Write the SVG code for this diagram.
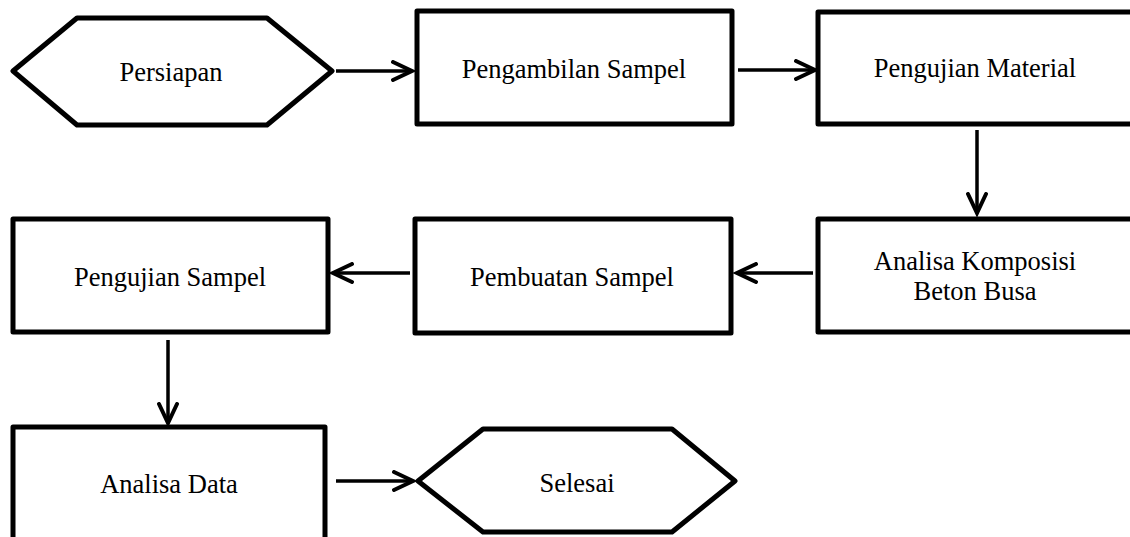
<svg xmlns="http://www.w3.org/2000/svg" width="1130" height="537" viewBox="0 0 1130 537">
<style>
.shape{fill:#fff;stroke:#000;stroke-width:5;stroke-linejoin:round}
.lbl{font-family:"Liberation Serif","Times New Roman",serif;font-size:26.5px;fill:#000;text-anchor:middle}
.conn{fill:none;stroke:#000;stroke-width:3.5}
</style>
<defs>
<marker id="arr" markerWidth="26" markerHeight="22" refX="21" refY="11" orient="auto" markerUnits="userSpaceOnUse">
<path d="M2,2 L21,11 L2,20" fill="none" stroke="#000" stroke-width="4" stroke-linecap="round" stroke-linejoin="miter"/>
</marker>
</defs>
<rect width="1130" height="537" fill="#fff"/>
<g id="n-persiapan"><polygon class="shape" points="13,71 77,18 267,18 332,71 267,125 77,125"/><text class="lbl" x="171" y="81">Persiapan</text></g>
<g id="n-pengambilan"><rect class="shape" x="417" y="11" width="315" height="113"/><text class="lbl" x="574" y="78">Pengambilan Sampel</text></g>
<g id="n-material"><rect class="shape" x="818" y="12" width="316" height="112"/><text class="lbl" x="975" y="77">Pengujian Material</text></g>
<g id="n-analisa-komposisi"><rect class="shape" x="818" y="219" width="316" height="113"/><text class="lbl" x="975" y="270">Analisa Komposisi</text><text class="lbl" x="975" y="300">Beton Busa</text></g>
<g id="n-pembuatan"><rect class="shape" x="415" y="219" width="316" height="114"/><text class="lbl" x="572" y="286">Pembuatan Sampel</text></g>
<g id="n-pengujian-sampel"><rect class="shape" x="13" y="219" width="315" height="113"/><text class="lbl" x="170" y="286">Pengujian Sampel</text></g>
<g id="n-analisa-data"><rect class="shape" x="13" y="427" width="312" height="120"/><text class="lbl" x="169" y="493">Analisa Data</text></g>
<g id="n-selesai"><polygon class="shape" points="418,481 483,429 672,429 735,481 672,532 483,532"/><text class="lbl" x="577" y="492">Selesai</text></g>
<g id="connectors">
<line class="conn" x1="336" y1="71" x2="412" y2="71" marker-end="url(#arr)"/>
<line class="conn" x1="738" y1="70" x2="815" y2="70" marker-end="url(#arr)"/>
<line class="conn" x1="977" y1="130" x2="977" y2="213" marker-end="url(#arr)"/>
<line class="conn" x1="813" y1="273" x2="737" y2="273" marker-end="url(#arr)"/>
<line class="conn" x1="410" y1="273" x2="333" y2="273" marker-end="url(#arr)"/>
<line class="conn" x1="168" y1="340" x2="168" y2="423" marker-end="url(#arr)"/>
<line class="conn" x1="336" y1="481" x2="413" y2="481" marker-end="url(#arr)"/>
</g>
</svg>
